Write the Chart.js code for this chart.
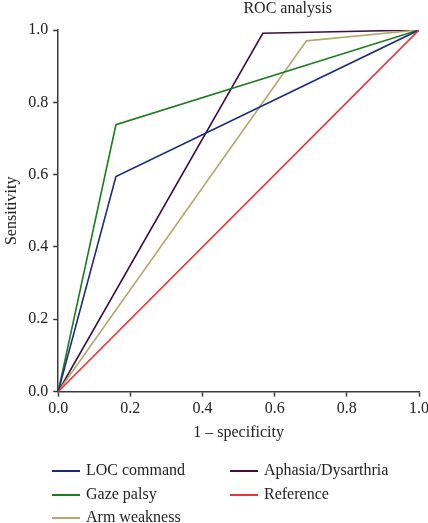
<!DOCTYPE html>
<html>
<head>
<meta charset="utf-8">
<script src="https://cdn.jsdelivr.net/npm/chart.js@4.4.0/dist/chart.umd.min.js"></script>
<style>
    html, body { margin: 0; padding: 0; background: #fff; overflow: hidden; }
    #wrap { position: relative; width: 428px; height: 523px; overflow: hidden; }
    #box { position: absolute; left: 0; top: 0; width: 440px; height: 523px; }
    #legend { position: absolute; left: 0; top: 0; font-family: "Liberation Serif", serif; font-size: 16px; color: #222; }
    .item { position: absolute; white-space: nowrap; }
    .item span.ln { position: absolute; width: 28px; height: 2px; top: -1px; left: 0; }
    .item span.tx { position: absolute; top: -10px; }
</style>
</head>
<body>
<div id="wrap">
    <div id="box"><canvas id="chart-roc" width="440" height="523"></canvas></div>
    <div id="legend"></div>
</div>
<script>
// ROC curves, x = 1 - specificity, y = sensitivity
var locX = [0, 0.16, 1];
var locY = [0, 0.595, 1];
var gazeX = [0, 0.16, 1];
var gazeY = [0, 0.738, 1];
var armX = [0, 0.688, 1];
var armY = [0, 0.97, 1];
var aphasiaX = [0, 0.567, 1];
var aphasiaY = [0, 0.991, 1];
var refX = [0, 1];
var refY = [0, 1];

var seriesNames = ["LOC command", "Gaze palsy", "Arm weakness", "Aphasia/Dysarthria", "Reference"];
var seriesColors = ["#1c2a7f", "#1b7d1b", "#b3a86a", "#3e1040", "#e8343a"];
var tickValues = [0, 0.2, 0.4, 0.6, 0.8, 1.0];

function pts(xs, ys) {
    return xs.map(function(x, i) { return {x: x, y: ys[i]}; });
}

var allX = [locX, gazeX, armX, aphasiaX, refX];
var allY = [locY, gazeY, armY, aphasiaY, refY];

var datasets = seriesNames.map(function(name, i) {
    return {
        label: name,
        data: pts(allX[i], allY[i]),
        borderColor: seriesColors[i],
        backgroundColor: seriesColors[i],
        borderWidth: 1.6,
        pointRadius: 0,
        showLine: true,
        tension: 0,
        fill: false
    };
});

// draw Reference first so others sit on top
datasets = datasets.slice(4).concat(datasets.slice(0, 4));

var axisColor = '#3a3a3a';
var serif = "Liberation Serif";

var titlePlugin = {
    id: 'rocTitle',
    afterDraw: function(chart) {
        var ctx = chart.ctx;
        var area = chart.chartArea;
        ctx.save();
        ctx.font = '16px "' + serif + '"';
        ctx.fillStyle = '#222';
        ctx.textAlign = 'center';
        ctx.textBaseline = 'middle';
        ctx.fillText('ROC analysis', area.left + (area.right - area.left) * 0.636, 9);
        ctx.restore();
    }
};

function axisOpts(title, isY) {
    return {
        type: 'linear',
        min: 0,
        max: 1,
        afterBuildTicks: function(axis) {
            axis.ticks = tickValues.map(function(v) { return {value: v}; });
        },
        grid: {
            display: true,
            drawOnChartArea: false,
            drawTicks: true,
            tickLength: 5,
            tickWidth: 1.5,
            tickColor: axisColor
        },
        border: { display: true, color: axisColor, width: 1.5 },
        ticks: {
            color: '#222',
            padding: isY ? 5 : 3,
            font: { family: serif, size: 16 },
            callback: function(v) { return Number(v).toFixed(1); }
        },
        title: {
            display: true,
            text: title,
            color: '#222',
            font: { family: serif, size: 16 },
            padding: isY ? { top: 0, bottom: 2 } : { top: 1, bottom: 0 }
        }
    };
}

var ctx = document.getElementById("chart-roc").getContext("2d");

new Chart(ctx, {
    type: 'scatter',
    data: { datasets: datasets },
    options: {
        responsive: false,
        animation: false,
        layout: { padding: { left: 2, right: 21, top: 30, bottom: 81 } },
        plugins: {
            legend: { display: false },
            tooltip: { enabled: false }
        },
        scales: {
            x: axisOpts('1 \u2013 specificity', false),
            y: axisOpts('Sensitivity', true)
        }
    },
    plugins: [titlePlugin]
});

// two-column legend under the chart
var legend = document.getElementById("legend");
var slots = [[52, 471], [52, 495], [52, 518], [230, 471], [230, 495]];
seriesNames.forEach(function(name, i) {
    var it = document.createElement('div');
    it.className = 'item';
    it.style.left = slots[i][0] + 'px';
    it.style.top = slots[i][1] + 'px';
    it.innerHTML = '<span class="ln" style="background:' + seriesColors[i] + '"></span>' +
        '<span class="tx" style="left:34px">' + name + '</span>';
    legend.appendChild(it);
});
</script>
</body>
</html>
